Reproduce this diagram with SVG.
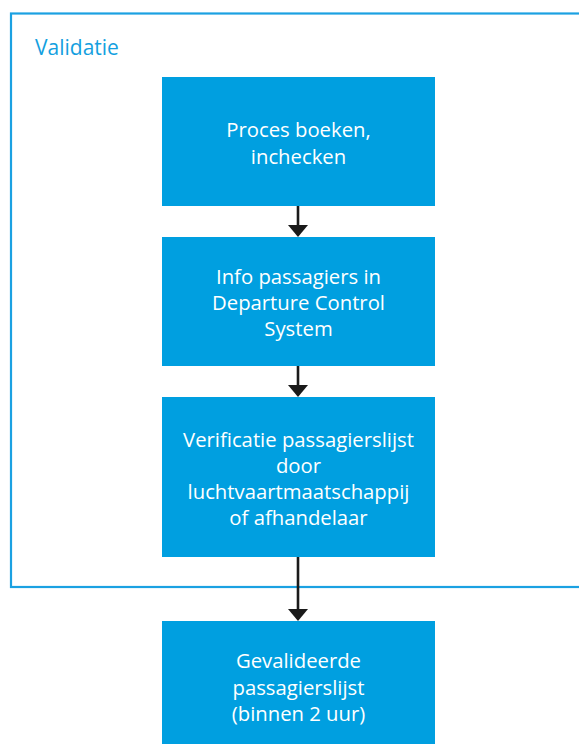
<svg xmlns="http://www.w3.org/2000/svg" width="579" height="744" viewBox="0 0 579 744">
<style>
.box{fill:#009fe0}
.t{font-family:"Open Sans","Noto Sans",sans-serif;font-size:20.3px;fill:#ffffff;text-anchor:middle}
.lbl{font-family:"Open Sans","Noto Sans",sans-serif;font-size:21px;fill:#139fe0}
.c{stroke:#1a1a1a;stroke-width:2.6;fill:none}
</style>
<defs>
<marker id="ah" markerUnits="userSpaceOnUse" markerWidth="12" markerHeight="20" refX="6" refY="10" orient="auto" viewBox="0 0 12 20">
<path d="M0,0 L12,10 L0,20 Z" fill="#1a1a1a"/>
</marker>
</defs>
<rect width="579" height="744" fill="#ffffff"/>
<g id="frame">
<rect x="11" y="13.5" width="590" height="573.5" fill="none" stroke="#1ba1e2" stroke-width="2.2"/>
<text class="lbl" x="35" y="55">Validatie</text>
</g>
<g id="connectors">
<line class="c" x1="298" y1="206" x2="298" y2="231" marker-end="url(#ah)"/>
<line class="c" x1="298" y1="366" x2="298" y2="391" marker-end="url(#ah)"/>
<line class="c" x1="298" y1="557" x2="298" y2="615" marker-end="url(#ah)"/>
</g>
<g id="n1">
<rect class="box" x="162" y="77" width="273" height="129"/>
<text class="t"><tspan x="298.5" y="137">Proces boeken,</tspan><tspan x="298.5" y="164">inchecken</tspan></text>
</g>
<g id="n2">
<rect class="box" x="162" y="237" width="273" height="129"/>
<text class="t"><tspan x="298.5" y="284">Info passagiers in</tspan><tspan x="298.5" y="310">Departure Control</tspan><tspan x="298.5" y="336">System</tspan></text>
</g>
<g id="n3">
<rect class="box" x="162" y="397" width="273" height="160"/>
<text class="t"><tspan x="298.5" y="447">Verificatie passagierslijst</tspan><tspan x="298.5" y="473">door</tspan><tspan x="298.5" y="499">luchtvaartmaatschappij</tspan><tspan x="298.5" y="525">of afhandelaar</tspan></text>
</g>
<g id="n4">
<rect class="box" x="162" y="621" width="273" height="130"/>
<text class="t"><tspan x="298.5" y="668">Gevalideerde</tspan><tspan x="298.5" y="695">passagierslijst</tspan><tspan x="298.5" y="721">(binnen 2 uur)</tspan></text>
</g>
</svg>
